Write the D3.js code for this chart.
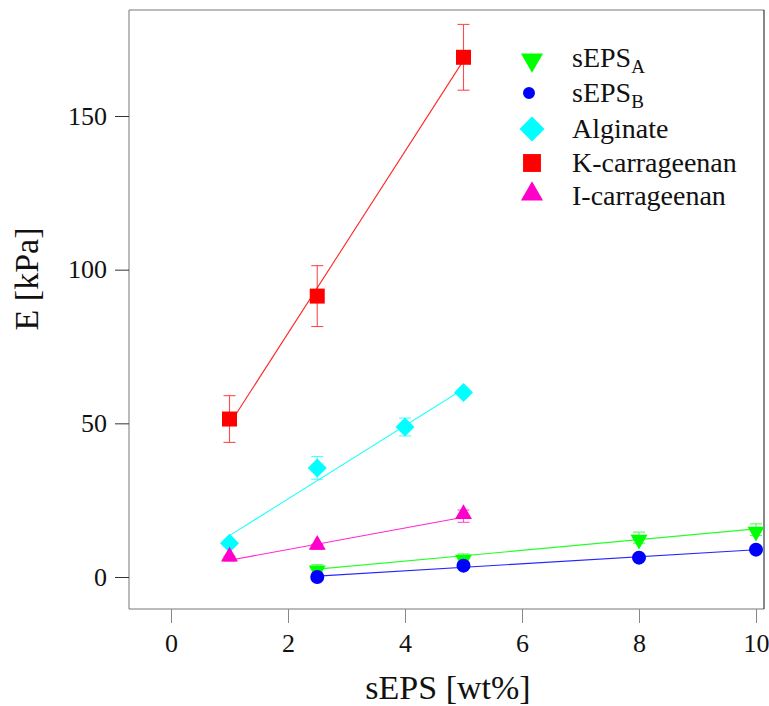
<!DOCTYPE html>
<html><head><meta charset="utf-8">
<script src="https://cdn.jsdelivr.net/npm/d3@7"></script>
<style>body{margin:0;background:#fff}svg{font-family:"Liberation Serif","Times New Roman",serif}</style>
</head><body>
<svg id="c" width="769" height="706"></svg>
<script>
const xTicks = [0, 2, 4, 6, 8, 10];
const yTicks = [0, 50, 100, 150];

const sepsA_x = [2.5, 5, 8, 10];
const sepsA_y = [2.8, 6.3, 12.8, 15.4];
const sepsA_err = [1.2, 1.2, 1.8, 1.9];

const sepsB_x = [2.5, 5, 8, 10];
const sepsB_y = [0, 3.7, 6.3, 8.9];
const sepsB_err = [0.8, 0.8, 0.8, 0.8];

const alg_x = [1, 2.5, 4, 5];
const alg_y = [11, 35.5, 48.8, 60];
const alg_err = [1.0, 3.7, 2.9, 1.0];

const kcar_x = [1, 2.5, 5];
const kcar_y = [51.4, 91.4, 169.1];
const kcar_err = [7.6, 9.9, 10.7];

const icar_x = [1, 2.5, 5];
const icar_y = [6, 9.8, 19.8];
const icar_err = [0.8, 0.8, 2.0];

const series = [
  {name:"sEPS", sub:"A", x:sepsA_x, y:sepsA_y, e:sepsA_err, color:"#00ff00", sym:"down"},
  {name:"sEPS", sub:"B", x:sepsB_x, y:sepsB_y, e:sepsB_err, color:"#0000ff", sym:"circle"},
  {name:"Alginate", sub:"", x:alg_x, y:alg_y, e:alg_err, color:"#00ffff", sym:"diamond"},
  {name:"K-carrageenan", sub:"", x:kcar_x, y:kcar_y, e:kcar_err, color:"#ff0000", sym:"square"},
  {name:"I-carrageenan", sub:"", x:icar_x, y:icar_y, e:icar_err, color:"#ff00cc", sym:"up"}
];

const svg = d3.select("#c");
const L=129, R=764, T=10, B=609;
const x = d3.scaleLinear().domain([0,10]).range([171,756]);
const y = d3.scaleLinear().domain([0,150]).range([577,116]);
const FONT = "Liberation Serif";

// frame
svg.append("line").attr("x1",L).attr("x2",R).attr("y1",T).attr("y2",T).attr("stroke","#777");
svg.append("line").attr("x1",L).attr("x2",L).attr("y1",T).attr("y2",B).attr("stroke","#777");
svg.append("line").attr("x1",L).attr("x2",R).attr("y1",B).attr("y2",B).attr("stroke","#777");
svg.append("line").attr("x1",R).attr("x2",R).attr("y1",T).attr("y2",B).attr("stroke","#111");

// axes
const xa = svg.append("g").attr("transform",`translate(0,${B})`)
  .call(d3.axisBottom(x).tickValues(xTicks).tickSize(14).tickPadding(11).tickFormat(d3.format("d")));
xa.select(".domain").remove();
xa.selectAll("line").attr("stroke","#888");
xa.selectAll("text").attr("font-size",26).attr("fill","#111").attr("font-family",FONT);

const ya = svg.append("g").attr("transform",`translate(${L},0)`)
  .call(d3.axisLeft(y).tickValues(yTicks).tickSize(14).tickPadding(8).tickFormat(d3.format("d")));
ya.select(".domain").remove();
ya.selectAll("line").attr("stroke","#333");
ya.selectAll("text").attr("font-size",26).attr("fill","#111").attr("font-family",FONT);

svg.append("text").attr("x",448).attr("y",699).attr("text-anchor","middle")
  .attr("font-size",34).attr("fill","#111").text("sEPS [wt%]");
svg.append("text").attr("transform","translate(38,279) rotate(-90)").attr("text-anchor","middle")
  .attr("font-size",34).attr("fill","#111").text("E [kPa]");

function symPath(sym, legend){
  const k = legend ? 1.7 : 1;
  if(sym==="down"||sym==="up") return d3.symbol().type(d3.symbolTriangle).size(125*(legend?1.7:1))();
  if(sym==="circle") return d3.symbol().type(d3.symbolCircle).size(legend?113:154)();
  if(sym==="diamond") return d3.symbol().type(d3.symbolSquare).size(legend?312:180)();
  return d3.symbol().type(d3.symbolSquare).size(legend?320:225)();
}
function symTransform(sym){
  if(sym==="down") return " rotate(180) translate(0,-2)";
  if(sym==="up") return " translate(0,-2)";
  if(sym==="diamond") return " rotate(45)";
  return "";
}

series.forEach(s=>{
  const g = svg.append("g");
  // fit line (least squares through the points)
  const n=s.x.length, mx=d3.mean(s.x), my=d3.mean(s.y);
  let sxy=0,sxx=0; for(let i=0;i<n;i++){sxy+=(s.x[i]-mx)*(s.y[i]-my);sxx+=(s.x[i]-mx)**2;}
  const b=sxy/sxx, a=my-b*mx;
  const x0=d3.min(s.x), x1=d3.max(s.x);
  g.append("line").attr("x1",x(x0)).attr("x2",x(x1)).attr("y1",y(a+b*x0)).attr("y2",y(a+b*x1))
    .attr("stroke",s.color).attr("stroke-width",1.1).attr("opacity",0.85);
  // error bars
  s.x.forEach((xv,i)=>{
    const yv=s.y[i], e=s.e[i];
    const eg=g.append("g").attr("stroke",s.color).attr("stroke-width",1.1).attr("opacity",0.7);
    eg.append("line").attr("x1",x(xv)).attr("x2",x(xv)).attr("y1",y(yv-e)).attr("y2",y(yv+e));
    eg.append("line").attr("x1",x(xv)-6).attr("x2",x(xv)+6).attr("y1",y(yv-e)).attr("y2",y(yv-e));
    eg.append("line").attr("x1",x(xv)-6).attr("x2",x(xv)+6).attr("y1",y(yv+e)).attr("y2",y(yv+e));
  });
  // markers
  s.x.forEach((xv,i)=>{
    g.append("path").attr("d",symPath(s.sym,false))
      .attr("transform",`translate(${x(xv)},${y(s.y[i])})`+symTransform(s.sym))
      .attr("fill",s.color);
  });
});

// legend
const ly=[58,93,129,163,196];
const lx=[532,529,532,532,532];
series.forEach((s,i)=>{
  svg.append("path").attr("d",symPath(s.sym,true))
    .attr("transform",`translate(${lx[i]},${ly[i]})`+symTransform(s.sym)).attr("fill",s.color);
  const t=svg.append("text").attr("x",572).attr("y",ly[i]+9).attr("font-size",28).attr("fill","#111");
  t.append("tspan").text(s.name);
  if(s.sub) t.append("tspan").attr("font-size",19).attr("dy",6).text(s.sub);
});
</script>
</body></html>
